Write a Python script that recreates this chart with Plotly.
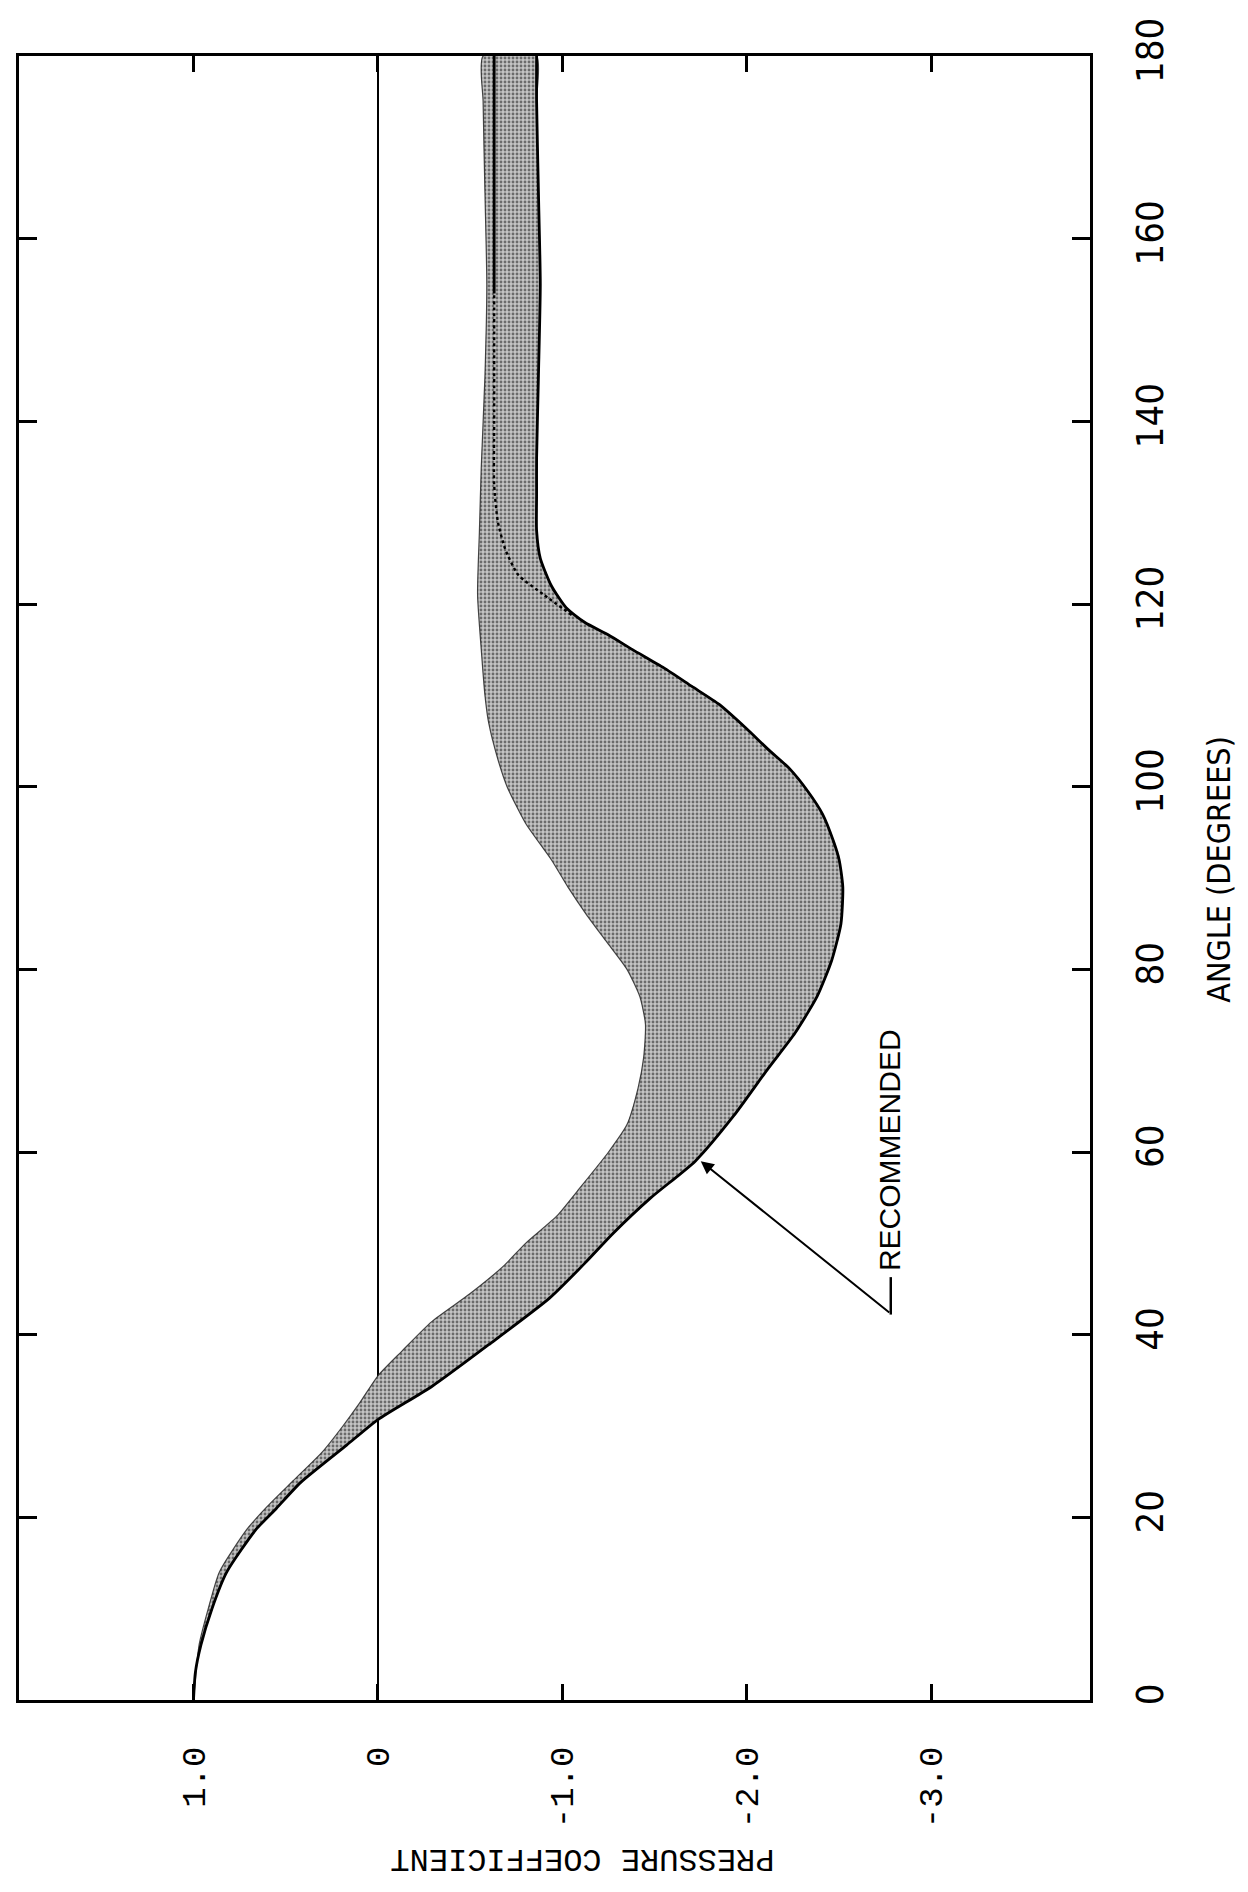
import plotly.graph_objects as go

# ---------------- data ----------------
# Outer ("recommended") boundary of the shaded band: angle (deg) -> pressure coefficient
angle_outer = [0, 3, 6, 10, 14, 18.7, 21, 23.8, 27.9, 30.7, 34.3, 38.9, 44, 48, 51, 55, 59, 64, 69, 73,
               77, 81, 85, 89, 92, 94, 97, 99.5, 102, 104, 106.5, 109, 111, 113, 115, 116.6, 118, 119.6, 122, 125,
               128, 132, 136, 145, 155, 165, 175, 180]
cp_outer = [1.00, 0.99, 0.96, 0.90, 0.82, 0.66, 0.55, 0.42, 0.17, 0.00, -0.29, -0.60, -0.93, -1.13, -1.27, -1.48, -1.72, -1.93, -2.11, -2.26,
            -2.38, -2.46, -2.51, -2.52, -2.50, -2.47, -2.41, -2.33, -2.23, -2.12, -1.99, -1.85, -1.70, -1.55, -1.38, -1.25, -1.12, -1.02, -0.94, -0.88,
            -0.86, -0.86, -0.86, -0.87, -0.88, -0.87, -0.86, -0.86]

# Inner boundary of the shaded band
angle_inner = [0, 6, 10, 14, 18.7, 21.2, 24, 27.2, 30, 32.5, 35.5, 38.2, 41.4, 44.5, 47.5, 50, 53, 55.7, 60, 63,
               67, 70.3, 74, 77, 80, 83, 86, 89, 92, 96, 100, 103, 107, 110, 115, 121, 128, 135, 145, 155,
               165, 175, 180]
cp_inner = [1.00, 0.97, 0.92, 0.86, 0.71, 0.60, 0.46, 0.30, 0.19, 0.10, 0.0, -0.13, -0.29, -0.50, -0.68, -0.80, -0.97, -1.08, -1.25, -1.35,
            -1.41, -1.44, -1.45, -1.42, -1.35, -1.24, -1.13, -1.03, -0.94, -0.80, -0.70, -0.65, -0.60, -0.58, -0.56, -0.54, -0.55, -0.56, -0.58, -0.59,
            -0.58, -0.57, -0.57]

# Upper part of the recommended curve (leaves the outer edge near 119 deg)
rec_angle_upper = [118.8, 121, 123.2, 126, 129, 133, 140, 154, 165, 180]
rec_cp_upper = [-1.05, -0.90, -0.76, -0.69, -0.65, -0.63, -0.63, -0.63, -0.63, -0.63]

x_tick_vals = [1, 0, -1, -2, -3]
x_tick_text = ["1.0", "0", "-1.0", "-2.0", "-3.0"]
y_tick_vals = [0, 20, 40, 60, 80, 100, 120, 140, 160, 180]
y_tick_text = [str(v) for v in y_tick_vals]

# ---------------- styling ----------------
MONO = "Liberation Mono, DejaVu Sans Mono, monospace"
NARROW = "Liberation Sans Narrow, DejaVu Sans Condensed, Roboto Condensed, Arial Narrow, sans-serif"
SANS = "Liberation Sans, Arial, sans-serif"

fig = go.Figure()

# shaded band
band_x = cp_inner + cp_outer[::-1]
band_y = angle_inner + angle_outer[::-1]
fig.add_trace(go.Scatter(
    x=band_x, y=band_y, mode="lines", fill="toself",
    line=dict(color="rgba(40,40,40,0.85)", width=1.2, shape="spline", smoothing=0.6),
    fillcolor="rgba(0,0,0,0)",
    fillpattern=dict(shape=".", fgcolor="#111111", bgcolor="#c4c4c4", size=4, solidity=0.4),
    hoverinfo="skip", showlegend=False))

# outer (recommended) edge
fig.add_trace(go.Scatter(x=cp_outer, y=angle_outer, mode="lines",
                         line=dict(color="black", width=2.8, shape="spline", smoothing=0.6),
                         showlegend=False))

# recommended upper branch: dotted then solid
n_split = rec_angle_upper.index(154)
fig.add_trace(go.Scatter(x=rec_cp_upper[:n_split + 1], y=rec_angle_upper[:n_split + 1], mode="lines",
                         line=dict(color="black", width=2.4, dash="dot", shape="spline", smoothing=0.6),
                         showlegend=False))
fig.add_trace(go.Scatter(x=rec_cp_upper[n_split:], y=rec_angle_upper[n_split:], mode="lines",
                         line=dict(color="black", width=2.8), showlegend=False))

# RECOMMENDED label with arrow and bracket
fig.add_annotation(x=-2.77, y=60.2, xref="x", yref="y", text="RECOMMENDED", showarrow=False,
                   textangle=-90, font=dict(family=SANS, size=30, color="black"))
fig.add_annotation(x=-1.75, y=59.0, xref="x", yref="y", ax=-2.78, ay=42.3, axref="x", ayref="y",
                   text="", showarrow=True, arrowhead=2, arrowsize=1.3, arrowwidth=2, arrowcolor="black")
fig.add_shape(type="line", xref="x", yref="y", x0=-2.78, x1=-2.78, y0=42.2, y1=46.3,
              line=dict(color="black", width=2.5))

# axis titles
fig.add_annotation(x=1.14, y=91, xref="paper", yref="y", text="ANGLE (DEGREES)", showarrow=False,
                   textangle=-90, font=dict(family=NARROW, size=32, color="black"))
fig.add_annotation(x=-1.11, y=-0.109, xref="x", yref="paper", text="PRESSURE COEFFICIENT", showarrow=False,
                   textangle=180, font=dict(family=MONO, size=32, color="black"))

fig.update_layout(
    width=1248, height=1892,
    margin=dict(l=8, r=166, t=48, b=200),
    paper_bgcolor="white", plot_bgcolor="white",
    showlegend=False,
    xaxis=dict(range=[1.946, -3.86], tickvals=x_tick_vals, ticktext=x_tick_text,
               tickangle=-90, ticks="inside", ticklen=16, tickwidth=2.5, tickcolor="black",
               showline=True, linecolor="black", linewidth=3, mirror="ticks",
               showgrid=False, zeroline=True, zerolinecolor="black", zerolinewidth=1.6,
               tickfont=dict(family=MONO, size=34, color="black"), ticklabelstandoff=30),
    yaxis=dict(range=[0, 180], side="right", tickvals=y_tick_vals, ticktext=y_tick_text,
               tickangle=-90, ticks="inside", ticklen=18, tickwidth=3, tickcolor="black",
               showline=True, linecolor="black", linewidth=3, mirror="ticks",
               showgrid=False, zeroline=False,
               tickfont=dict(family=NARROW, size=38, color="black"), ticklabelstandoff=24),
)

fig.write_html("out.html")
